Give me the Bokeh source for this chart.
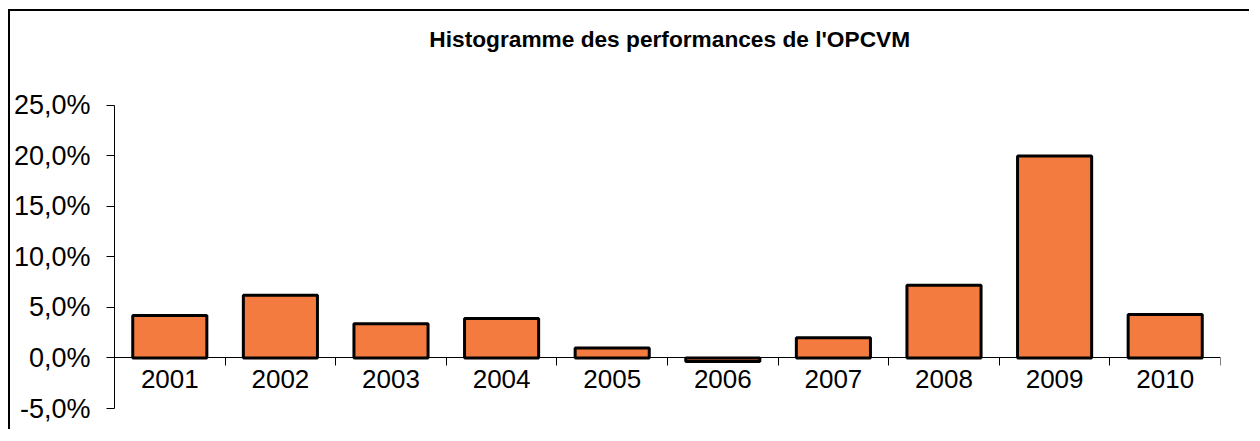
from bokeh.plotting import figure
from bokeh.models import ColumnDataSource, LinearAxis, FixedTicker, Range1d, Label
from bokeh.embed import file_html
from bokeh.resources import INLINE

# ---- data ----
years = ["2001", "2002", "2003", "2004", "2005", "2006", "2007", "2008", "2009", "2010"]
perf = [4.2, 6.2, 3.4, 3.9, 1.0, -0.35, 2.0, 7.2, 20.0, 4.3]
y_ticks = [-5, 0, 5, 10, 15, 20, 25]
y_tick_labels = ["-5,0%", "0,0%", "5,0%", "10,0%", "15,0%", "20,0%", "25,0%"]
title_text = "Histogramme des performances de l'OPCVM"

xpos = list(range(1, len(years) + 1))
src = ColumnDataSource(data=dict(x=xpos, top=perf, year=years))

FONT = "Liberation Sans"

# the frame extends above the axis bounds to host the title
p = figure(
    width=1241, height=420,
    output_backend="svg", toolbar_location=None,
    x_range=Range1d(0.5, len(years) + 0.5),
    y_range=Range1d(y_ticks[0], 34),
    min_border_left=102, min_border_top=3, min_border_right=31, min_border_bottom=23,
    x_axis_location=None, y_axis_location=None,
)
p.styles = {"border-top": "2px solid black", "border-left": "2px solid black",
            "margin-top": "9px", "margin-left": "8px"}
p.outline_line_color = None
p.grid.visible = False
p.background_fill_color = "white"
p.border_fill_color = "white"

# chart title
p.add_layout(Label(x=5.52, y=31.6, text=title_text, text_align="center",
                   text_baseline="middle", text_font=FONT, text_font_size="22.7px",
                   text_font_style="bold", text_color="black"))

p.vbar(x="x", top="top", bottom=0, width=0.67, source=src,
       fill_color="#F37B3F", line_color="black", line_width=3)

# y axis
yax = LinearAxis(ticker=FixedTicker(ticks=y_ticks), bounds=(y_ticks[0], y_ticks[-1]))
yax.major_label_overrides = {t: l for t, l in zip(y_ticks, y_tick_labels)}
yax.major_tick_out = 8
yax.major_tick_in = 0
yax.minor_tick_line_color = None
yax.axis_line_color = "black"
yax.major_tick_line_color = "black"
yax.major_label_standoff = 16
yax.major_label_text_font = FONT
yax.major_label_text_font_size = "27px"
yax.major_label_text_color = "black"
p.add_layout(yax, "left")

# x axis: line + boundary ticks at y=0
xtick_ax = LinearAxis(ticker=FixedTicker(ticks=[i + 0.5 for i in range(0, len(years) + 1)]),
                      fixed_location=0)
xtick_ax.major_tick_out = 8
xtick_ax.major_tick_in = 0
xtick_ax.minor_tick_line_color = None
xtick_ax.major_label_text_alpha = 0
xtick_ax.major_label_text_font_size = "1px"
xtick_ax.axis_line_color = "black"
p.add_layout(xtick_ax, "below")

# x axis: labels at category centres
xlab_ax = LinearAxis(ticker=FixedTicker(ticks=xpos), fixed_location=0)
xlab_ax.major_label_overrides = {x: y for x, y in zip(xpos, years)}
xlab_ax.major_tick_out = 0
xlab_ax.major_tick_in = 0
xlab_ax.minor_tick_line_color = None
xlab_ax.axis_line_color = None
xlab_ax.major_label_standoff = 12
xlab_ax.major_label_text_font = FONT
xlab_ax.major_label_text_font_size = "26px"
xlab_ax.major_label_text_color = "black"
p.add_layout(xlab_ax, "below")

open("out.html", "w").write(file_html(p, INLINE))
